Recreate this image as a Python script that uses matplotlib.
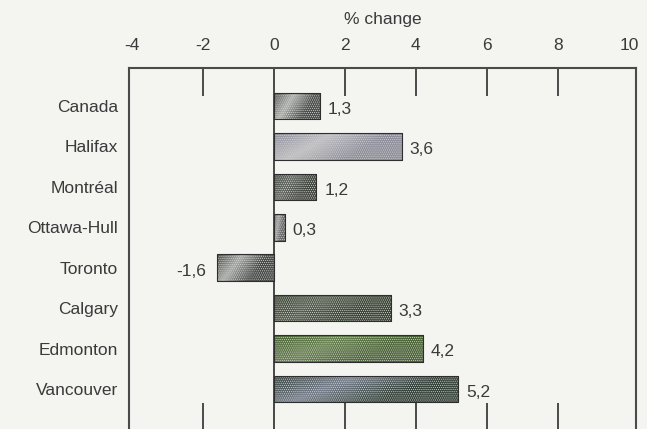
import numpy as np
import matplotlib
matplotlib.use("Agg")
import matplotlib.pyplot as plt
from matplotlib.colors import to_rgb

cities = ["Canada", "Halifax", "Montréal", "Ottawa-Hull", "Toronto",
          "Calgary", "Edmonton", "Vancouver"]
values = [1.3, 3.6, 1.2, 0.3, -1.6, 3.3, 4.2, 5.2]
value_labels = ["1,3", "3,6", "1,2", "0,3", "-1,6", "3,3", "4,2", "5,2"]
tick_values = [-4, -2, 0, 2, 4, 6, 8, 10]
tick_labels = ["-4", "-2", "0", "2", "4", "6", "8", "10"]
mark_values = [-2, 2, 4, 6, 8]
axis_title = "% change"

# (dark, light) colour pairs for the shaded bars
bar_colors = [("#4a4e4c", "#b0b4b0"), ("#8e8e9c", "#c0c0c4"),
              ("#424740", "#666a64"), ("#666666", "#a4a4a4"),
              ("#464846", "#a8aca8"), ("#3c4636", "#566050"),
              ("#4a6436", "#688250"), ("#34423a", "#767e8c")]

plt.rcParams['font.family'] = ['Liberation Sans', 'DejaVu Sans']
plt.rcParams['hatch.linewidth'] = 0.5
bg = "#f4f4f1"
txt = "#3a3a3a"
fig = plt.figure(figsize=(6.47, 4.29), dpi=100, facecolor=bg)
ax = fig.add_axes([129/647, -2/429, 507/647, 363/429])
ax.set_facecolor(bg)

y = np.arange(len(cities))
bars = ax.barh(y, values, height=0.66, color=[c[0] for c in bar_colors],
               edgecolor="#2e2e2e", linewidth=0.6, zorder=2)

# gradient fill clipped to each bar
for b, (c1, c2) in zip(bars, bar_colors):
    x0, y0 = b.get_x(), b.get_y()
    w, h = b.get_width(), b.get_height()
    t = np.linspace(0, 1, 200)
    xx, yy = np.meshgrid(t, np.linspace(0, 1, 20))
    s = np.clip(1 - np.abs((xx + 0.35 * yy) - 0.45) * 2.2, 0, 1)
    a, bcol = np.array(to_rgb(c1)), np.array(to_rgb(c2))
    img = a[None, None, :] * (1 - s[..., None]) + bcol[None, None, :] * s[..., None]
    im = ax.imshow(img, extent=[min(x0, x0 + w), max(x0, x0 + w), y0 + h, y0],
                   aspect="auto", zorder=2.1, interpolation="bilinear")
    im.set_clip_path(b)

ax.barh(y, values, height=0.66, facecolor="none", edgecolor="#d0d0cc",
        hatch="........", linewidth=0, zorder=2.2)
ax.barh(y, values, height=0.66, facecolor="none", edgecolor="#2e2e2e",
        linewidth=0.8, zorder=2.3)

for yi, v, lab in zip(y, values, value_labels):
    if v >= 0:
        ax.text(v + 0.22, yi + 0.08, lab, va="center", ha="left",
                fontsize=12.5, color=txt, zorder=3)
    else:
        ax.text(v - 0.3, yi + 0.1, lab, va="center", ha="right",
                fontsize=12.5, color=txt, zorder=3)

ax.set_xlim(-4.08, 10.2)
ax.set_ylim(8.04, -0.94)

ax.axvline(0, color="#3a3a3a", linewidth=1.3, zorder=1.5)

ax.xaxis.remove_overlapping_locs = False
ax.xaxis.tick_top()
ax.set_xticks(tick_values)
ax.set_xticklabels(tick_labels, fontsize=12.5, color=txt)
ax.tick_params(axis="x", which="major", length=0, pad=11,
               top=True, bottom=False)
ax.set_xticks(mark_values, minor=True)
ax.tick_params(axis="x", which="minor", direction="in", length=20,
               width=1.4, color="#4a4a4a", top=True, bottom=True)
ax.xaxis.get_minor_ticks()[0].tick1line.set_color("#a04858")

ax.set_yticks(y)
ax.set_yticklabels(cities, fontsize=12.5, color=txt)
ax.tick_params(axis="y", length=0, pad=8)

ax.set_xlabel(axis_title, fontsize=12.5, color=txt, labelpad=10)
ax.xaxis.set_label_position("top")

for sp in ax.spines.values():
    sp.set_color("#4a4a4a")
    sp.set_linewidth(1.5)

fig.savefig("out.png", dpi=100, facecolor=bg)
